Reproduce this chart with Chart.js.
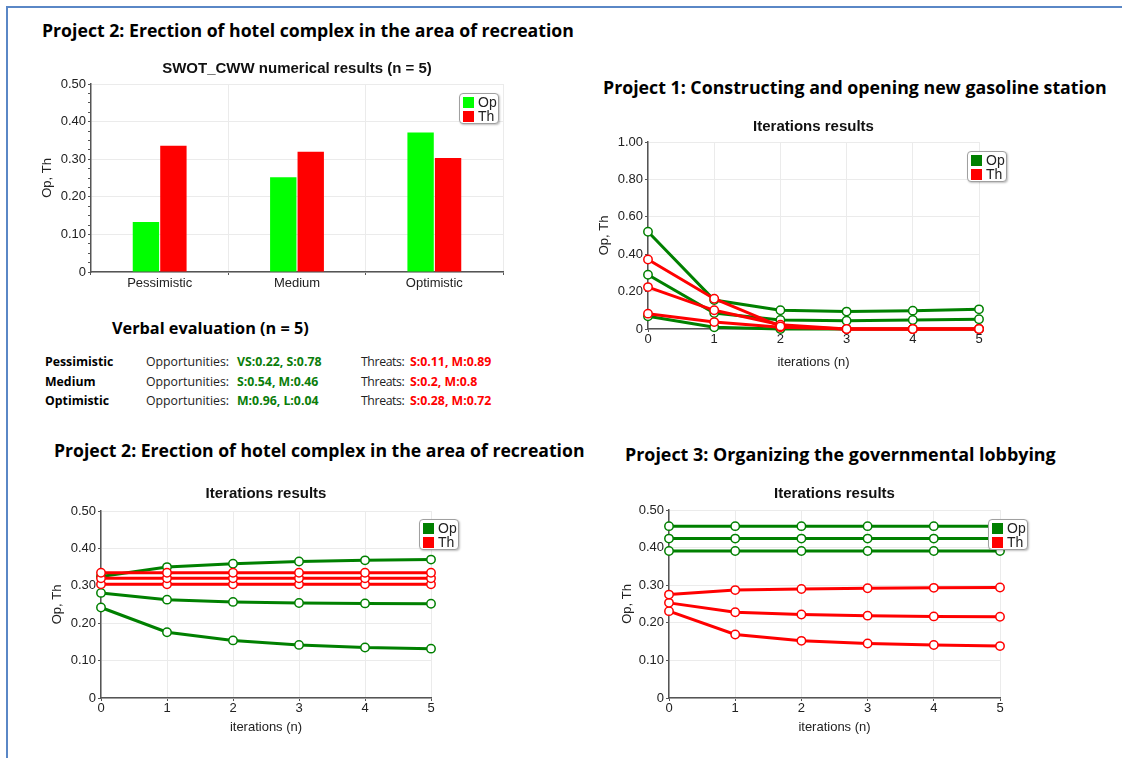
<!DOCTYPE html>
<html lang="en">
<head>
<meta charset="UTF-8">
<title>SWOT_CWW results</title>
<script src="https://cdn.jsdelivr.net/npm/chart.js@4.4.0/dist/chart.umd.min.js"></script>
<style>
    body {
        margin: 0;
        width: 1122px;
        height: 758px;
        overflow: hidden;
        position: relative;
        background: #fff;
        font-family: 'Open Sans', 'Noto Sans', sans-serif;
        color: #000;
    }
    .frame {
        position: absolute;
        left: 6px;
        top: 6px;
        width: 1200px;
        height: 800px;
        border-top: 2px solid #5a87c6;
        border-left: 2px solid #5a87c6;
    }
    .heading {
        position: absolute;
        font-weight: bold;
        font-size: 18px;
        line-height: 22px;
        white-space: nowrap;
    }
    .box { position: absolute; }
    .legend {
        position: absolute;
        box-sizing: border-box;
        width: 40px;
        height: 31px;
        border: 1px solid #a0a0a0;
        border-radius: 4px;
        background: #fff;
        box-shadow: 1px 1px 2px rgba(0,0,0,0.25);
        font: 14px 'Liberation Sans', Arial, sans-serif;
        line-height: 14px;
        padding: 1px 0 0 3px;
        color: #222;
    }
    .legend div { display: flex; align-items: center; height: 14px; }
    .legend span { display: inline-block; width: 11px; height: 11px; margin-right: 4px; }
    .verbal-title {
        position: absolute;
        left: 112px;
        top: 317px;
        font-weight: bold;
        font-size: 16px;
        line-height: 22px;
        white-space: nowrap;
    }
    table.verbal {
        position: absolute;
        left: 45px;
        top: 352px;
        border-collapse: collapse;
        table-layout: fixed;
        font-size: 12.3px;
        color: #222;
    }
    table.verbal td { padding: 0; height: 19.5px; white-space: nowrap; }
    table.verbal td.name { font-weight: bold; color: #000; }
    table.verbal td.op { color: #0a7d0a; font-weight: bold; }
    table.verbal td.th { color: #f00; font-weight: bold; }
    table.verbal td.thl { letter-spacing: -0.4px; }
</style>
</head>
<body>
<div class="frame"></div>

<div class="heading" data-w="532" style="left:42px; top:19px;">Project 2: Erection of hotel complex in the area of recreation</div>
<div class="heading" data-w="504" style="left:603px; top:76px;">Project 1: Constructing and opening new gasoline station</div>
<div class="heading" data-w="531" style="left:54px; top:439px;">Project 2: Erection of hotel complex in the area of recreation</div>
<div class="heading" data-w="431" style="left:625px; top:443px;">Project 3: Organizing the governmental lobbying</div>

<div class="box" style="left:20px; top:50px; width:500px; height:250px;"><canvas id="barChart"></canvas></div>
<div class="box" style="left:585px; top:105px; width:410px; height:265px;"><canvas id="p1Chart"></canvas></div>
<div class="box" style="left:40px; top:470px; width:410px; height:265px;"><canvas id="p2Chart"></canvas></div>
<div class="box" style="left:610px; top:470px; width:410px; height:265px;"><canvas id="p3Chart"></canvas></div>

<div class="legend" style="left:459px; top:93px;">
    <div><span style="background:#00ff00"></span>Op</div>
    <div><span style="background:#ff0000"></span>Th</div>
</div>
<div class="legend" style="left:967px; top:151px;">
    <div><span style="background:#008000"></span>Op</div>
    <div><span style="background:#ff0000"></span>Th</div>
</div>
<div class="legend" style="left:419px; top:519px;">
    <div><span style="background:#008000"></span>Op</div>
    <div><span style="background:#ff0000"></span>Th</div>
</div>
<div class="legend" style="left:988px; top:519px;">
    <div><span style="background:#008000"></span>Op</div>
    <div><span style="background:#ff0000"></span>Th</div>
</div>

<div class="verbal-title" data-w="197">Verbal evaluation (n = 5)</div>
<table class="verbal">
    <colgroup><col style="width:101px"><col style="width:91px"><col style="width:124px"><col style="width:49px"><col style="width:110px"></colgroup>
    <tr><td class="name">Pessimistic</td><td>Opportunities:</td><td class="op">VS:0.22, S:0.78</td><td class="thl">Threats:</td><td class="th">S:0.11, M:0.89</td></tr>
    <tr><td class="name">Medium</td><td>Opportunities:</td><td class="op">S:0.54, M:0.46</td><td class="thl">Threats:</td><td class="th">S:0.2, M:0.8</td></tr>
    <tr><td class="name">Optimistic</td><td>Opportunities:</td><td class="op">M:0.96, L:0.04</td><td class="thl">Threats:</td><td class="th">S:0.28, M:0.72</td></tr>
</table>

<script>
    // bar chart: SWOT_CWW numerical results
    const scenarios = ['Pessimistic', 'Medium', 'Optimistic'];
    const barOp = [0.133, 0.252, 0.371];
    const barTh = [0.336, 0.320, 0.303];

    // iteration results
    const iterations = ['0', '1', '2', '3', '4', '5'];

    // Project 1
    const p1Op1 = [0.52, 0.155, 0.100, 0.093, 0.098, 0.105];
    const p1Op2 = [0.29, 0.085, 0.048, 0.044, 0.048, 0.052];
    const p1Op3 = [0.068, 0.009, 0.0, 0.0, 0.0, 0.0];
    const p1Th1 = [0.372, 0.162, 0.014, 0.0, 0.0, 0.0];
    const p1Th2 = [0.224, 0.100, 0.023, 0.0, 0.0, 0.0];
    const p1Th3 = [0.082, 0.037, 0.009, 0.0, 0.0, 0.0];

    // Project 2
    const p2Op1 = [0.325, 0.350, 0.359, 0.365, 0.368, 0.370];
    const p2Op2 = [0.281, 0.263, 0.257, 0.254, 0.253, 0.252];
    const p2Op3 = [0.242, 0.176, 0.154, 0.142, 0.135, 0.132];
    const p2Th1 = [0.335, 0.335, 0.335, 0.335, 0.335, 0.335];
    const p2Th2 = [0.320, 0.320, 0.320, 0.320, 0.320, 0.320];
    const p2Th3 = [0.304, 0.304, 0.304, 0.304, 0.304, 0.304];

    // Project 3
    const p3Op1 = [0.457, 0.457, 0.457, 0.457, 0.457, 0.457];
    const p3Op2 = [0.424, 0.424, 0.424, 0.424, 0.424, 0.424];
    const p3Op3 = [0.391, 0.391, 0.391, 0.391, 0.391, 0.391];
    const p3Th1 = [0.275, 0.287, 0.290, 0.292, 0.293, 0.294];
    const p3Th2 = [0.253, 0.228, 0.222, 0.219, 0.217, 0.216];
    const p3Th3 = [0.231, 0.169, 0.152, 0.145, 0.141, 0.138];

    const GREEN = '#008000';
    const RED = '#ff0000';
    const AXIS = '#555';
    const GRID = '#ebebeb';

    // shrink/grow headings to the width they have in the original
    function fitText() {
        document.querySelectorAll('[data-w]').forEach(el => {
            el.style.fontSize = '';
            const base = parseFloat(getComputedStyle(el).fontSize);
            const w = el.getBoundingClientRect().width;
            el.style.fontSize = (base * el.dataset.w / w).toFixed(2) + 'px';
        });
    }
    fitText();
    if (document.fonts) document.fonts.ready.then(fitText);

    Chart.defaults.font.family = "'Liberation Sans', Arial, sans-serif";
    Chart.defaults.font.size = 13;
    Chart.defaults.color = '#222';
    Chart.defaults.animation = false;

    // chart title centred over the plot area (not the whole canvas)
    const areaTitle = {
        id: 'areaTitle',
        afterDraw(chart, args, opts) {
            const { ctx, chartArea } = chart;
            ctx.save();
            ctx.font = "bold 15px 'Liberation Sans', Arial, sans-serif";
            ctx.fillStyle = '#111';
            ctx.textAlign = 'center';
            ctx.textBaseline = 'middle';
            ctx.fillText(opts.text, (chartArea.left + chartArea.right) / 2, chartArea.top - opts.gap);
            ctx.restore();
        }
    };

    function tickLabel(v) {
        return v === 0 ? '0' : v.toFixed(2);
    }
    function isMajor(v) {
        return Math.abs(v * 10 - Math.round(v * 10)) < 1e-6;
    }

    new Chart(document.getElementById('barChart'), {
        type: 'bar',
        data: {
            labels: scenarios,
            datasets: [
                { label: 'Op', data: barOp, backgroundColor: '#00ff00' },
                { label: 'Th', data: barTh, backgroundColor: RED }
            ]
        },
        plugins: [areaTitle],
        options: {
            responsive: true,
            maintainAspectRatio: false,
            categoryPercentage: 0.4,
            barPercentage: 0.96,
            layout: { padding: { left: 16, right: 17, top: 34, bottom: 0 } },
            plugins: {
                legend: { display: false },
                tooltip: { enabled: false },
                areaTitle: { text: 'SWOT_CWW numerical results (n = 5)', gap: 15 }
            },
            scales: {
                x: {
                    grid: { color: GRID, tickColor: AXIS, tickLength: 3, offset: true },
                    border: { color: AXIS, width: 1.5 },
                    ticks: { padding: 1 },
                    afterFit: s => { s.height = 28; }
                },
                y: {
                    min: 0,
                    max: 0.5,
                    ticks: {
                        stepSize: 0.025,
                        autoSkip: false,
                        padding: 2,
                        callback: v => isMajor(v) ? tickLabel(v) : ''
                    },
                    grid: {
                        color: c => isMajor(c.tick.value) ? GRID : 'rgba(0,0,0,0)',
                        tickColor: AXIS,
                        tickLength: 3
                    },
                    border: { color: AXIS, width: 1.5 },
                    title: { display: true, text: 'Op, Th', padding: { top: 4, bottom: 4 } },
                    afterFit: s => { s.width = 55; }
                }
            }
        }
    });

    function lineSet(data, color, order) {
        return {
            data: data,
            borderColor: color,
            borderWidth: 3,
            pointRadius: 4.2,
            pointBorderWidth: 1.5,
            pointBackgroundColor: '#fff',
            pointBorderColor: color,
            tension: 0,
            clip: false,
            order: order
        };
    }

    function iterChart(id, ops, ths, yMax, yStep, pad, yWidth, xHeight, titleGap, xTitleTop) {
        const sets = ops.map(d => lineSet(d, GREEN, 2)).concat(ths.map(d => lineSet(d, RED, 1)));
        return new Chart(document.getElementById(id), {
            type: 'line',
            data: { labels: iterations, datasets: sets },
            plugins: [areaTitle],
            options: {
                responsive: true,
                maintainAspectRatio: false,
                layout: { padding: pad },
                plugins: {
                    legend: { display: false },
                    tooltip: { enabled: false },
                    areaTitle: { text: 'Iterations results', gap: titleGap }
                },
                scales: {
                    x: {
                        grid: { color: GRID, tickColor: AXIS, tickLength: 3 },
                        border: { color: AXIS, width: 1.5 },
                        ticks: { padding: 0, maxRotation: 0 },
                        title: { display: true, text: 'iterations (n)', padding: { top: xTitleTop, bottom: 0 } },
                        afterFit: s => { s.height = xHeight; }
                    },
                    y: {
                        min: 0,
                        max: yMax,
                        ticks: { stepSize: yStep, padding: 2, callback: v => tickLabel(v) },
                        grid: { color: GRID, tickColor: AXIS, tickLength: 3 },
                        border: { color: AXIS, width: 1.5 },
                        title: { display: true, text: 'Op, Th', padding: { top: 4, bottom: 4 } },
                        afterFit: s => { s.width = yWidth; }
                    }
                }
            }
        });
    }

    iterChart('p1Chart', [p1Op1, p1Op2, p1Op3], [p1Th1, p1Th2, p1Th3], 1.0, 0.2,
        { left: 8, right: 16, top: 37, bottom: 0 }, 55, 41, 15, 6);
    iterChart('p2Chart', [p2Op1, p2Op2, p2Op3], [p2Th1, p2Th2, p2Th3], 0.5, 0.1,
        { left: 6, right: 19, top: 41, bottom: 0 }, 55, 37, 17, 3);
    iterChart('p3Chart', [p3Op1, p3Op2, p3Op3], [p3Th1, p3Th2, p3Th3], 0.5, 0.1,
        { left: 6, right: 20, top: 40, bottom: 0 }, 53, 37, 16, 3);
</script>
</body>
</html>
